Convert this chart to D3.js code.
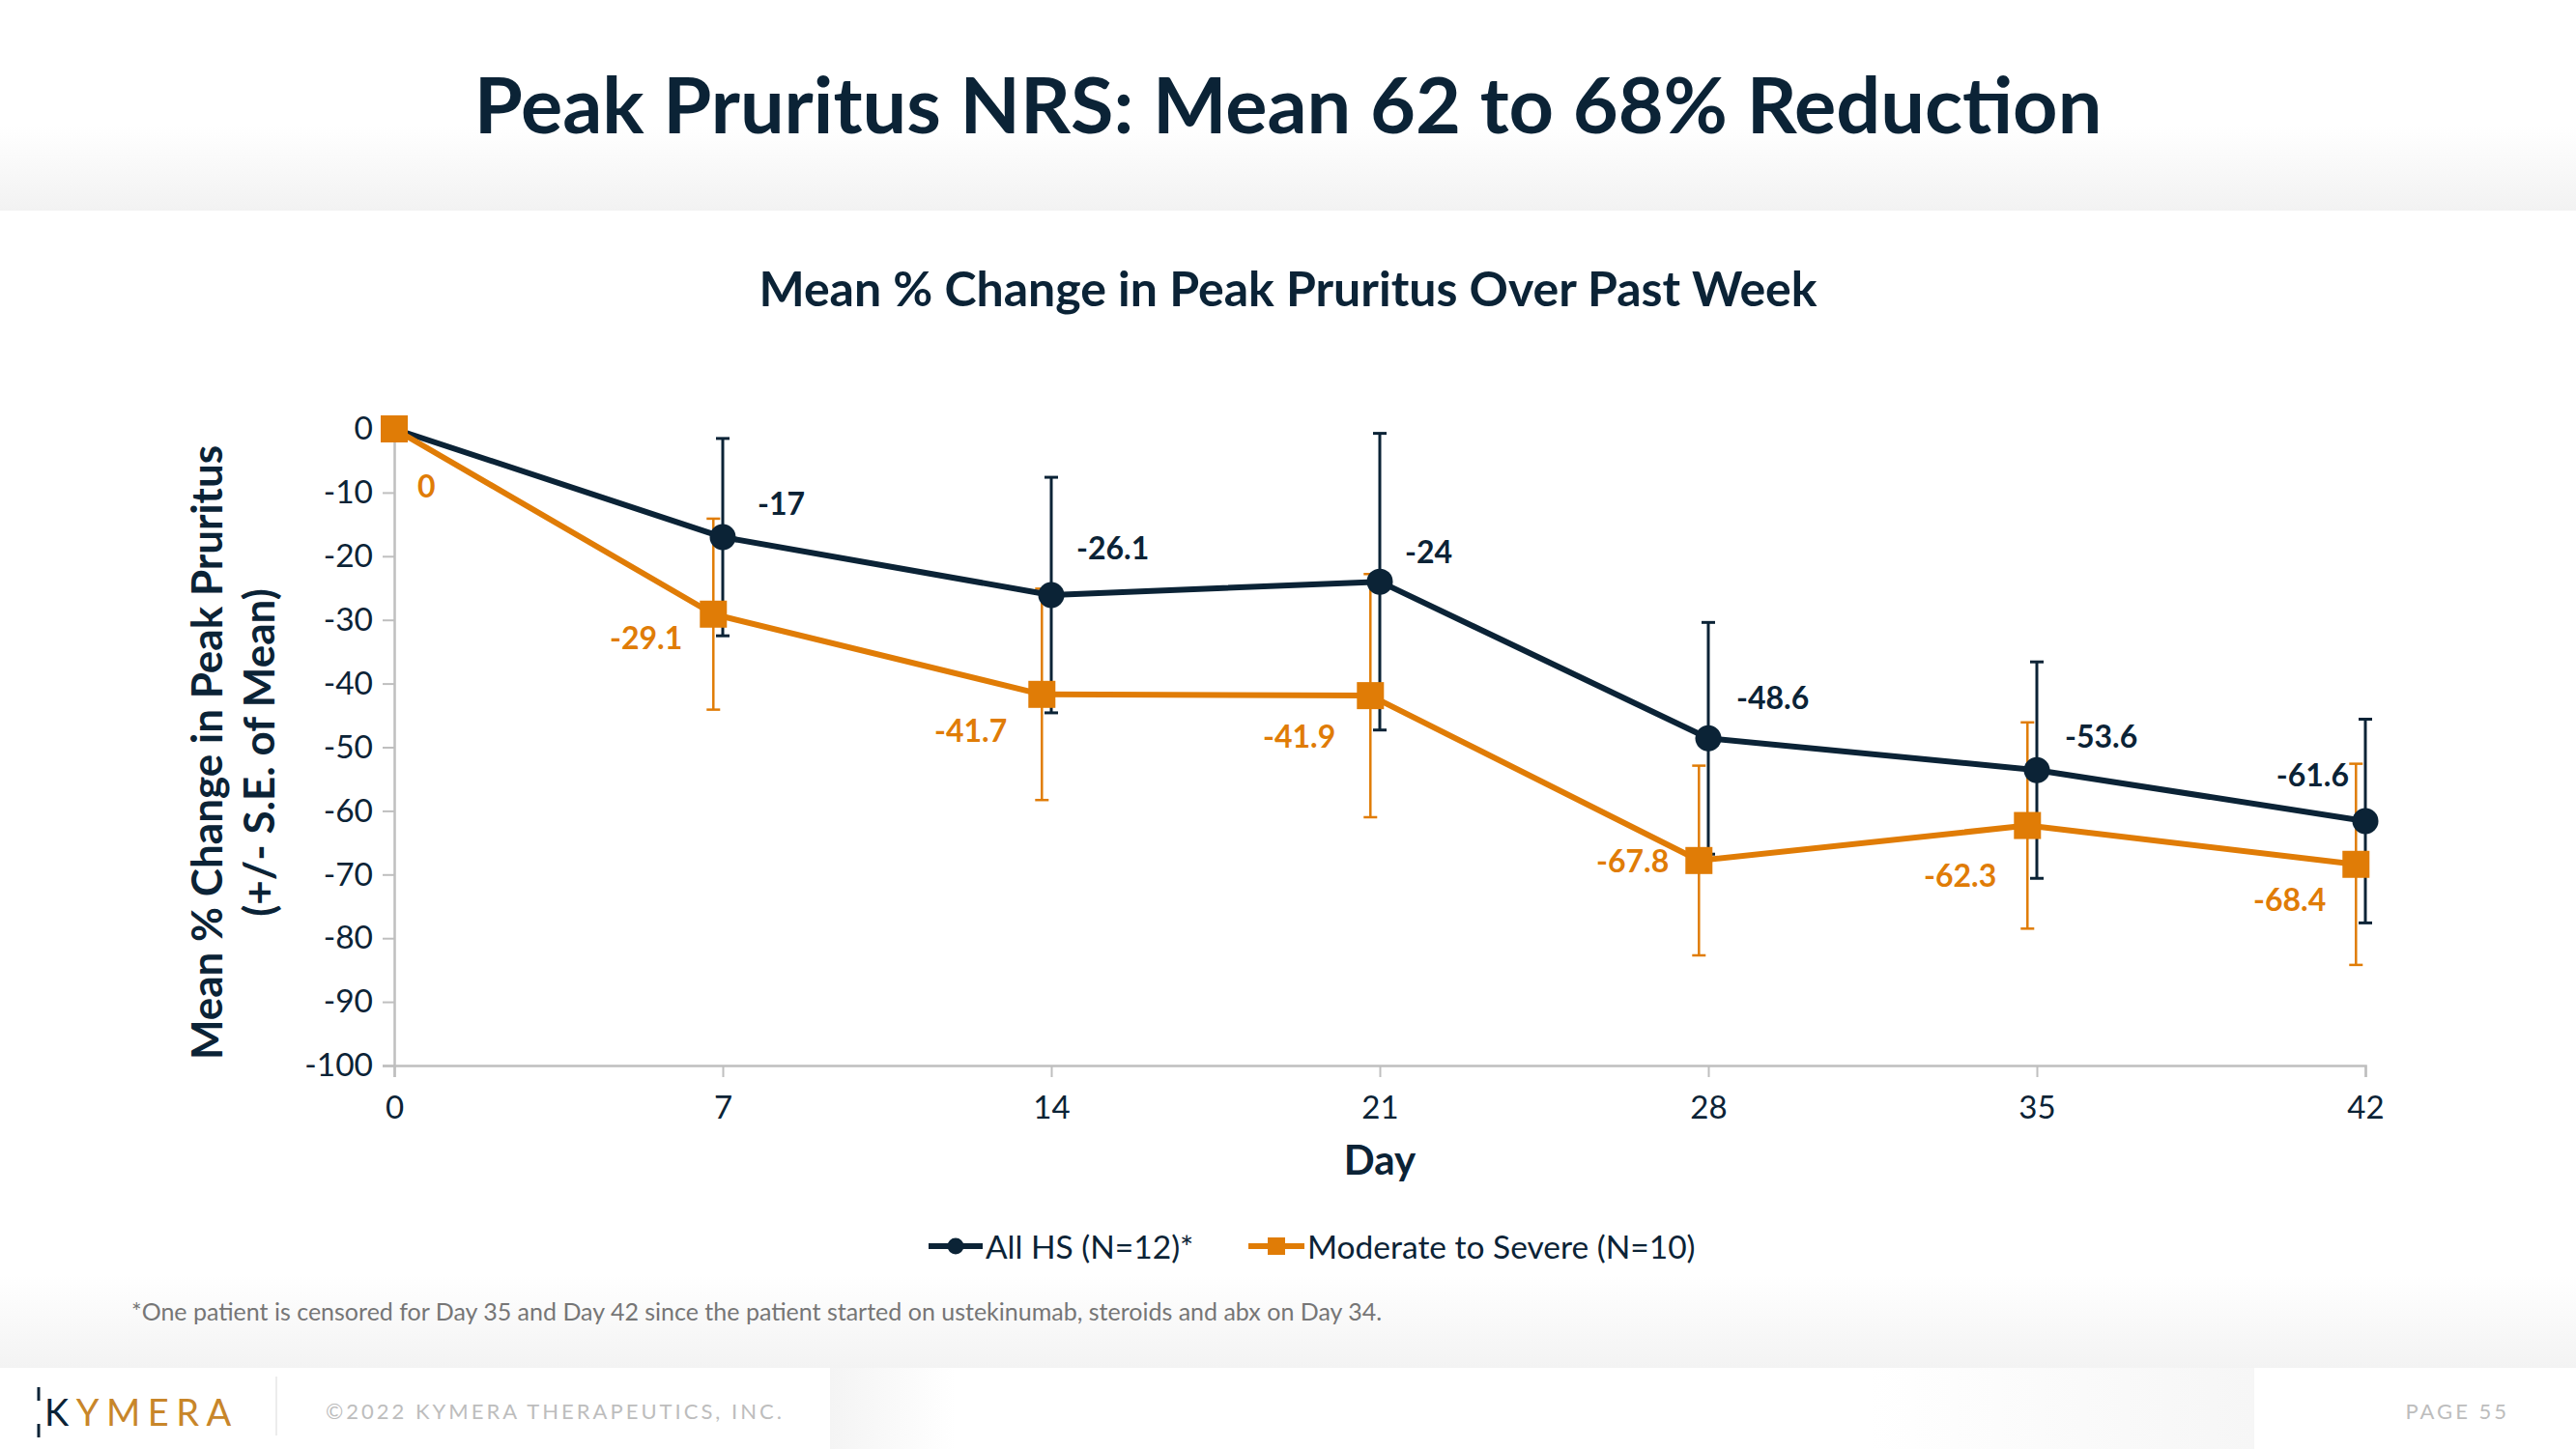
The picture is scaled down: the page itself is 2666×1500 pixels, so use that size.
<!DOCTYPE html>
<html>
<head>
<meta charset="utf-8">
<script src="https://cdn.jsdelivr.net/npm/d3@7"></script>
<style>
  html, body { margin: 0; padding: 0; background: #fff; }
  svg { display: block; font-family: Lato, "Open Sans", sans-serif; }
</style>
</head>
<body>
<svg id="chart" width="2666" height="1500"></svg>
<script>
// ---------------- data ----------------
const days = [0, 7, 14, 21, 28, 35, 42];
const xTicks = [0, 7, 14, 21, 28, 35, 42];
const yTicks = [0, -10, -20, -30, -40, -50, -60, -70, -80, -90, -100];

const allHS = [0, -17, -26.1, -24, -48.6, -53.6, -61.6];
const allHSse = [0, 15.5, 18.5, 23.3, 18.2, 17, 16];
const allHSlabels = [null, "-17", "-26.1", "-24", "-48.6", "-53.6", "-61.6"];

const modDays = [0, 6.8, 13.8, 20.8, 27.8, 34.8, 41.8];
const modSev = [0, -29.1, -41.7, -41.9, -67.8, -62.3, -68.4];
const modSevSe = [0, 15, 16.6, 19.1, 14.9, 16.2, 15.8];
const modSevLabels = ["0", "-29.1", "-41.7", "-41.9", "-67.8", "-62.3", "-68.4"];

const seriesNames = ["All HS (N=12)*", "Moderate to Severe (N=10)"];

// label placement (style, pixel offsets from each point)
const darkLabelOff = [[0,0,"start"],[36,-36,"start"],[26,-49,"start"],[26,-32,"start"],[29,-43,"start"],[29,-36,"start"],[-17,-48,"end"]];
const orangeLabelOff = [[24,58,"start"],[-32,24,"end"],[-36,37,"end"],[-36,41,"end"],[-31,0,"end"],[-32,51,"end"],[-31,36,"end"]];

// ---------------- style ----------------
const NAVY = "#0b2336";
const ORANGE = "#e07c06";
const AXIS = "#bfbfbf";

const svg = d3.select("#chart");
const W = 2666, H = 1500;

const defs = svg.append("defs");
const g1 = defs.append("linearGradient").attr("id","hdr").attr("x1",0).attr("y1",0).attr("x2",0).attr("y2",1);
g1.append("stop").attr("offset","0.6").attr("stop-color","#ffffff");
g1.append("stop").attr("offset","1").attr("stop-color","#f2f2f2");
const g2 = defs.append("linearGradient").attr("id","fn").attr("x1",0).attr("y1",0).attr("x2",0).attr("y2",1);
g2.append("stop").attr("offset","0").attr("stop-color","#ffffff");
g2.append("stop").attr("offset","1").attr("stop-color","#f3f3f3");
const g3 = defs.append("linearGradient").attr("id","fp1").attr("x1",0).attr("y1",0).attr("x2",1).attr("y2",0);
g3.append("stop").attr("offset","0").attr("stop-color","#f4f4f4");
g3.append("stop").attr("offset","1").attr("stop-color","#ffffff");
const g4 = defs.append("linearGradient").attr("id","fp2").attr("x1",0).attr("y1",0).attr("x2",1).attr("y2",0);
g4.append("stop").attr("offset","0").attr("stop-color","#ffffff");
g4.append("stop").attr("offset","1").attr("stop-color","#f6f6f6");

// backgrounds
svg.append("rect").attr("x",0).attr("y",0).attr("width",W).attr("height",218).attr("fill","url(#hdr)");
svg.append("rect").attr("x",0).attr("y",1320).attr("width",W).attr("height",96).attr("fill","url(#fn)");
svg.append("rect").attr("x",859).attr("y",1416).attr("width",130).attr("height",84).attr("fill","url(#fp1)");
svg.append("rect").attr("x",1935).attr("y",1416).attr("width",398).attr("height",84).attr("fill","url(#fp2)");

// title
svg.append("text").attr("x",1333).attr("y",138).attr("text-anchor","middle")
  .attr("font-size",81).attr("font-weight",700).attr("fill",NAVY)
  .text("Peak Pruritus NRS: Mean 62 to 68% Reduction");

svg.append("text").attr("x",1333).attr("y",317).attr("text-anchor","middle")
  .attr("font-size",50).attr("font-weight",700).attr("fill",NAVY)
  .text("Mean % Change in Peak Pruritus Over Past Week");

// scales
const x = d3.scaleLinear().domain([0,42]).range([408,2448]);
const y = d3.scaleLinear().domain([-100,0]).range([1103,444]);

// axes
const yAxis = svg.append("g").attr("transform",`translate(${x(0)},0)`)
  .call(d3.axisLeft(y).tickValues(yTicks).tickSize(12).tickPadding(10).tickFormat(d => String(d)));
yAxis.select(".domain").attr("stroke",AXIS).attr("stroke-width",2.5);
yAxis.selectAll(".tick line").attr("stroke",AXIS).attr("stroke-width",2);
yAxis.selectAll(".tick text").attr("font-size",33.5).attr("fill",NAVY).attr("font-family","Lato");

const xAxis = svg.append("g").attr("transform",`translate(0,${y(-100)})`)
  .call(d3.axisBottom(x).tickValues(xTicks).tickSize(12).tickPadding(20).tickFormat(d => String(d)));
xAxis.select(".domain").attr("stroke",AXIS).attr("stroke-width",2.5);
xAxis.selectAll(".tick line").attr("stroke",AXIS).attr("stroke-width",2);
xAxis.selectAll(".tick text").attr("font-size",33).attr("fill",NAVY).attr("font-family","Lato");

// axis titles
svg.append("text").attr("x",x(21)).attr("y",1216).attr("text-anchor","middle")
  .attr("font-size",42).attr("font-weight",700).attr("fill",NAVY).text("Day");

const yt = svg.append("text").attr("transform","translate(230,779) rotate(-90)")
  .attr("text-anchor","middle").attr("font-size",44).attr("font-weight",700).attr("fill",NAVY);
yt.append("tspan").attr("x",0).attr("y",0).text("Mean % Change in Peak Pruritus");
yt.append("tspan").attr("x",0).attr("y",54).text("(+/- S.E. of Mean)");

// build series
const darkPts = days.map((d,i)=>({x:d, y:allHS[i], se:allHSse[i], label:allHSlabels[i], off:darkLabelOff[i]}));
const orPts = modDays.map((d,i)=>({x:d, y:modSev[i], se:modSevSe[i], label:modSevLabels[i], off:orangeLabelOff[i]}));

function errBars(pts, color, sw){
  const g = svg.append("g").attr("stroke",color).attr("stroke-width",sw);
  pts.filter(p=>p.se>0).forEach(p=>{
    const cx = x(p.x), t = y(p.y+p.se), b = y(p.y-p.se);
    g.append("line").attr("x1",cx).attr("x2",cx).attr("y1",t).attr("y2",b);
    g.append("line").attr("x1",cx-7).attr("x2",cx+7).attr("y1",t).attr("y2",t);
    g.append("line").attr("x1",cx-7).attr("x2",cx+7).attr("y1",b).attr("y2",b);
  });
}
errBars(orPts, ORANGE, 2.5);
errBars(darkPts, NAVY, 3);

const line = d3.line().x(p=>x(p.x)).y(p=>y(p.y));
svg.append("path").datum(darkPts).attr("d",line).attr("fill","none").attr("stroke",NAVY).attr("stroke-width",6).attr("stroke-linejoin","round");
svg.append("path").datum(orPts).attr("d",line).attr("fill","none").attr("stroke",ORANGE).attr("stroke-width",6).attr("stroke-linejoin","round");

svg.append("g").selectAll("circle").data(darkPts).join("circle")
  .attr("cx",p=>x(p.x)).attr("cy",p=>y(p.y)).attr("r",13.5).attr("fill",NAVY);
svg.append("g").selectAll("rect").data(orPts).join("rect")
  .attr("x",p=>x(p.x)-14).attr("y",p=>y(p.y)-14).attr("width",28).attr("height",28).attr("fill",ORANGE);

// data labels
function labels(pts, color){
  svg.append("g").selectAll("text").data(pts.filter(p=>p.label!==null)).join("text")
    .attr("x",p=>x(p.x)+p.off[0]).attr("y",p=>y(p.y)+p.off[1])
    .attr("text-anchor",p=>p.off[2]).attr("dominant-baseline","central")
    .attr("font-size",32).attr("font-weight",700).attr("fill",color).text(p=>p.label);
}
labels(darkPts, NAVY);
labels(orPts, ORANGE);

// legend
const lg = svg.append("g");
const ly = 1290;
lg.append("line").attr("x1",961).attr("x2",1017).attr("y1",ly).attr("y2",ly).attr("stroke",NAVY).attr("stroke-width",6);
lg.append("circle").attr("cx",989).attr("cy",ly).attr("r",8.5).attr("fill",NAVY);
lg.append("text").attr("x",1020).attr("y",ly).attr("dominant-baseline","central").attr("font-size",33.5).attr("fill",NAVY).text(seriesNames[0]);
lg.append("line").attr("x1",1292).attr("x2",1350).attr("y1",ly).attr("y2",ly).attr("stroke",ORANGE).attr("stroke-width",6);
lg.append("rect").attr("x",1312).attr("y",ly-9).attr("width",18).attr("height",18).attr("fill",ORANGE);
lg.append("text").attr("x",1353).attr("y",ly).attr("dominant-baseline","central").attr("font-size",33.5).attr("fill",NAVY).text(seriesNames[1]);

// footnote
svg.append("text").attr("x",136).attr("y",1357).attr("dominant-baseline","central")
  .attr("font-size",25).attr("fill","#767676")
  .text("*One patient is censored for Day 35 and Day 42 since the patient started on ustekinumab, steroids and abx on Day 34.");

// footer
const logo = svg.append("text").attr("x",46).attr("y",1476).attr("font-size",38).attr("letter-spacing",7.5);
logo.append("tspan").attr("fill",NAVY).text("K");
logo.append("tspan").attr("fill","#c8862a").text("YMERA");
svg.append("line").attr("x1",40).attr("x2",40).attr("y1",1436).attr("y2",1450).attr("stroke",NAVY).attr("stroke-width",3);
svg.append("line").attr("x1",40).attr("x2",40).attr("y1",1474).attr("y2",1488).attr("stroke",NAVY).attr("stroke-width",3);
svg.append("line").attr("x1",286).attr("x2",286).attr("y1",1425).attr("y2",1486).attr("stroke","#e6e6e6").attr("stroke-width",1.5);
svg.append("text").attr("x",337).attr("y",1460).attr("dominant-baseline","central")
  .attr("font-size",22).attr("letter-spacing",3).attr("fill","#bdbdbd").text("©2022 KYMERA THERAPEUTICS, INC.");
svg.append("text").attr("x",2597).attr("y",1460).attr("dominant-baseline","central").attr("text-anchor","end")
  .attr("font-size",22).attr("letter-spacing",3).attr("fill","#bdbdbd").text("PAGE 55");
</script>
</body>
</html>
